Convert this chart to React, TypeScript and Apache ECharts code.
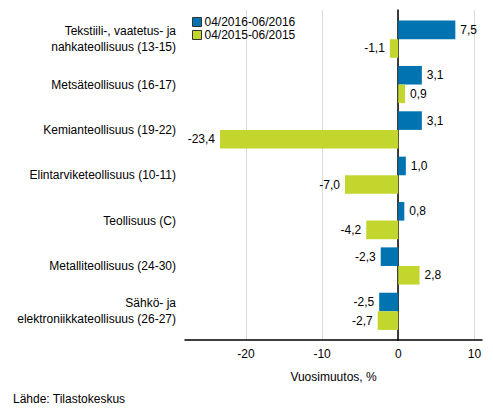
import React, { useEffect, useRef } from "react";
import * as echarts from "echarts";

const categories = [
  "Tekstiili-, vaatetus- ja\nnahkateollisuus (13-15)",
  "Metsäteollisuus (16-17)",
  "Kemianteollisuus (19-22)",
  "Elintarviketeollisuus (10-11)",
  "Teollisuus (C)",
  "Metalliteollisuus (24-30)",
  "Sähkö- ja\nelektroniikkateollisuus (26-27)",
];
const seriesNames = ["04/2016-06/2016", "04/2015-06/2015"];
const values2016 = [7.5, 3.1, 3.1, 1.0, 0.8, -2.3, -2.5];
const values2015 = [-1.1, 0.9, -23.4, -7.0, -4.2, 2.8, -2.7];
const xTicks = [-20, -10, 0, 10];
const xMin = -28;
const xMax = 11;
const colors = ["#0073b0", "#c2d62e"];
const FONT = "'Liberation Sans', Arial, sans-serif";

function fmt(v: number) {
  return v.toFixed(1).replace(".", ",");
}

function makeData(vals: number[]) {
  return vals.map((v) => ({
    value: v,
    label: { position: v >= 0 ? "right" : "left" },
  }));
}

export default function App() {
  const ref = useRef<HTMLDivElement>(null);
  useEffect(() => {
    if (!ref.current) return;
    const chart = echarts.init(ref.current, null, { renderer: "svg" });
    const labelCfg = {
      show: true,
      formatter: (p: any) => fmt(p.value),
      color: "#000",
      fontSize: 12,
      fontFamily: FONT,
      distance: 5,
    };
    chart.setOption({
      animation: false,
      textStyle: { fontFamily: FONT },
      legend: {
        orient: "vertical",
        left: 192,
        top: 15.5,
        padding: 0,
        itemWidth: 9,
        itemHeight: 9,
        itemGap: 0,
        icon: "rect",
        data: seriesNames,
        textStyle: {
          color: "#000",
          fontSize: 12,
          fontFamily: FONT,
          lineHeight: 13,
          padding: [0, 0, 0, -2],
        },
        itemStyle: { borderColor: "#333", borderWidth: 1 },
      },
      grid: [
        { left: 185, right: 11, top: 16.5, bottom: 82, containLabel: false },
        { left: 185, right: 11, top: 10, bottom: 76, containLabel: false },
      ],
      xAxis: [
        {
          type: "value",
          gridIndex: 0,
          min: xMin,
          max: xMax,
          show: false,
        },
        {
          type: "value",
          gridIndex: 1,
          min: xMin,
          max: xMax,
          axisLine: { show: true, onZero: false, lineStyle: { color: "#000", width: 1.5 } },
          axisTick: { show: false, customValues: xTicks },
          axisLabel: {
            customValues: xTicks,
            color: "#000",
            fontSize: 12,
            fontFamily: FONT,
            margin: 8,
          },
          splitLine: { show: true, lineStyle: { color: "#d9d9d9", width: 1 } },
          name: "Vuosimuutos, %",
          nameLocation: "middle",
          nameGap: 31,
          nameTextStyle: { color: "#000", fontSize: 12, fontFamily: FONT },
        },
      ],
      yAxis: [
        {
          type: "category",
          gridIndex: 0,
          inverse: true,
          data: categories,
          axisLine: { show: false },
          axisTick: { show: false },
          axisLabel: {
            color: "#000",
            fontSize: 12,
            fontFamily: FONT,
            margin: 9,
            lineHeight: 16,
            align: "right",
          },
          splitLine: { show: false },
        },
        {
          type: "value",
          gridIndex: 1,
          min: 0,
          max: 1,
          axisLine: { show: true, onZero: true, lineStyle: { color: "#000", width: 1.5 } },
          axisTick: { show: false },
          axisLabel: { show: false },
          splitLine: { show: false },
        },
      ],
      series: [
        {
          name: seriesNames[0],
          type: "bar",
          xAxisIndex: 0,
          yAxisIndex: 0,
          data: makeData(values2016),
          itemStyle: { color: colors[0] },
          label: labelCfg,
          barGap: "0%",
          barCategoryGap: "18%",
        },
        {
          name: seriesNames[1],
          type: "bar",
          xAxisIndex: 0,
          yAxisIndex: 0,
          data: makeData(values2015),
          itemStyle: { color: colors[1] },
          label: labelCfg,
          barGap: "0%",
          barCategoryGap: "18%",
        },
      ],
      graphic: [
        {
          type: "text",
          left: 13,
          top: 393,
          style: { text: "Lähde: Tilastokeskus", fill: "#000", fontSize: 12, fontFamily: FONT },
        },
      ],
    });
    return () => chart.dispose();
  }, []);
  return (
    <div
      ref={ref}
      style={{ position: "fixed", left: 0, top: 0, width: 493, height: 416, background: "#fff" }}
    />
  );
}
